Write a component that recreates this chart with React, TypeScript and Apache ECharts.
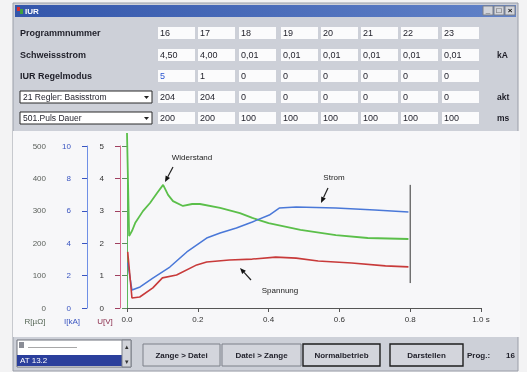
import React, { useEffect, useRef } from "react";
import * as echarts from "echarts";

// ---- chart data (time in s) ----
const timeTicks = ["0.0", "0.2", "0.4", "0.6", "0.8", "1.0 s"];
// Widerstand R [µΩ]
const resistance: [number, number][] = [
  [0.0, 540], [0.006, 222], [0.015, 240], [0.023, 262], [0.045, 299], [0.065, 324],
  [0.085, 355], [0.102, 380], [0.116, 349], [0.13, 330], [0.158, 315], [0.184, 321],
  [0.206, 321], [0.263, 309], [0.319, 293], [0.354, 278], [0.4, 262], [0.49, 241],
  [0.59, 225], [0.68, 216], [0.795, 213],
];
// Strom I [kA]
const current: [number, number][] = [
  [0.002, 2.8], [0.014, 1.11], [0.037, 1.3], [0.073, 1.85], [0.121, 2.53], [0.169, 3.46],
  [0.225, 4.32], [0.263, 4.63], [0.309, 4.94], [0.354, 5.31], [0.402, 5.74], [0.43, 6.17],
  [0.478, 6.23], [0.59, 6.17], [0.7, 6.05], [0.795, 5.93],
];
// Spannung U [V]
const voltage: [number, number][] = [
  [0.002, 1.73], [0.014, 0.31], [0.036, 0.34], [0.073, 0.62], [0.1, 0.93], [0.14, 1.02],
  [0.197, 1.33], [0.225, 1.42], [0.289, 1.48], [0.354, 1.51], [0.42, 1.57], [0.478, 1.54],
  [0.54, 1.45], [0.635, 1.39], [0.73, 1.3], [0.795, 1.27],
];
const endMarker: [number, number][] = [[0.8, 380], [0.8, 77]];

// ---- table contents ----
const rowLabels = ["Programmnummer", "Schweissstrom", "IUR Regelmodus"];
const dropdownLabels = ["21 Regler: Basisstrom", "501.Puls Dauer"];
const programNumbers = ["16", "17", "18", "19", "20", "21", "22", "23"];
const weldCurrent = ["4,50", "4,00", "0,01", "0,01", "0,01", "0,01", "0,01", "0,01"];
const regelModus = ["5", "1", "0", "0", "0", "0", "0", "0"];
const reglerValues = ["204", "204", "0", "0", "0", "0", "0", "0"];
const pulseDuration = ["200", "200", "100", "100", "100", "100", "100", "100"];
const rowUnits = ["", "kA", "", "akt", "ms"];
const buttonLabels = ["Zange > Datei", "Datei > Zange", "Normalbetrieb", "Darstellen"];
const axisUnits = ["R[µΩ]", "I[kA]", "U[V]"];

const FONT = "Liberation Sans";

function txt(text: string, x: number, y: number, opts: any = {}) {
  return {
    type: "text",
    z: opts.z ?? 20,
    style: {
      text,
      x,
      y,
      fill: opts.fill ?? "#222",
      fontSize: opts.fontSize ?? 8,
      fontFamily: FONT,
      fontWeight: opts.bold ? "bold" : "normal",
      align: opts.align ?? "left",
      textAlign: opts.align ?? "left",
      verticalAlign: "middle",
      textVerticalAlign: "middle",
    },
  };
}
function rect(x: number, y: number, w: number, h: number, fill: any, stroke?: string, z = 10, lw = 1) {
  return {
    type: "rect",
    z,
    shape: { x, y, width: w, height: h },
    style: { fill, stroke: stroke ?? null, lineWidth: lw },
  };
}

export default function App() {
  const ref = useRef<HTMLDivElement>(null);
  useEffect(() => {
    if (!ref.current) return;
    const chart = echarts.init(ref.current, null, { renderer: "svg" });

    const g: any[] = [];
    // outside + window
    g.push(rect(0, 0, 527, 372, "#f3f3f4", undefined, -20));
    g.push(rect(13, 3, 505, 368, "#cdd0d8", "#9a9ea8", -19));
    // title bar
    g.push(
      rect(15, 5, 501, 12,
        new echarts.graphic.LinearGradient(0, 0, 1, 0, [
          { offset: 0, color: "#3356ab" },
          { offset: 1, color: "#6182c8" },
        ]), undefined, -18)
    );
    g.push(rect(17, 7, 3, 4, "#d83030", undefined, 12));
    g.push(rect(20, 9, 3, 5, "#40a040", undefined, 12));
    g.push(txt("IUR", 25, 11, { fill: "#ffffff", bold: true, fontSize: 8 }));
    const tb = [483, 494, 505];
    const tbSym = ["_", "□", "×"];
    tb.forEach((x, i) => {
      g.push(rect(x, 6, 10, 9, "#d2d4da", "#7d8089", 12));
      g.push(txt(tbSym[i], x + 5, 10.5, { align: "center", fontSize: 8, bold: true, fill: "#111" }));
    });

    // table
    const rowY = [33, 55, 76, 97, 118];
    const colX = [158, 198, 239, 281, 321, 361, 401, 442];
    const rows = [programNumbers, weldCurrent, regelModus, reglerValues, pulseDuration];
    rowLabels.forEach((l, i) => g.push(txt(l, 20, rowY[i], { bold: true, fill: "#1e1e28", fontSize: 9 })));
    dropdownLabels.forEach((l, j) => {
      const y = rowY[3 + j];
      g.push(rect(20, y - 6, 132, 12, "#ffffff", "#2a2a2a", 10));
      g.push(txt(l, 23, y, { fill: "#1e1e28", fontSize: 8.5 }));
      g.push({
        type: "polygon",
        z: 12,
        shape: { points: [[144, y - 1], [149, y - 1], [146.5, y + 2]] },
        style: { fill: "#222" },
      });
    });
    rows.forEach((vals, r) => {
      vals.forEach((v, c) => {
        g.push(rect(colX[c], rowY[r] - 6, 37, 12, "#fbfbfc", undefined, 10));
        g.push(
          txt(v, colX[c] + 2, rowY[r], {
            fill: r === 2 && c === 0 ? "#2a55d0" : "#1e1e28",
            fontSize: 9,
          })
        );
      });
      if (rowUnits[r]) g.push(txt(rowUnits[r], 497, rowY[r], { bold: true, fill: "#1e1e28", fontSize: 8.5 }));
    });

    // chart panel
    g.push(rect(13, 131, 507, 206, "#f7f7f9", undefined, -15));

    // axis unit labels
    const unitX = [35, 72, 105];
    const unitC = ["#556655", "#3a55c0", "#8a2a4a"];
    axisUnits.forEach((u, i) => g.push(txt(u, unitX[i], 321, { align: "center", fill: unitC[i] })));

    // annotations
    const arrow = (x1: number, y1: number, x2: number, y2: number) => {
      const dx = x2 - x1, dy = y2 - y1;
      const len = Math.hypot(dx, dy);
      const ux = dx / len, uy = dy / len;
      const bx = x2 - ux * 6, by = y2 - uy * 6;
      g.push({ type: "line", z: 15, shape: { x1, y1, x2: bx, y2: by }, style: { stroke: "#222", lineWidth: 1.2 } });
      g.push({
        type: "polygon",
        z: 15,
        shape: { points: [[x2, y2], [bx - uy * 2.5, by + ux * 2.5], [bx + uy * 2.5, by - ux * 2.5]] },
        style: { fill: "#111" },
      });
    };
    g.push(txt("Widerstand", 192, 157, { align: "center", fill: "#222" }));
    arrow(173, 167, 165, 182);
    g.push(txt("Strom", 334, 177, { align: "center", fill: "#222" }));
    arrow(328, 188, 321, 203);
    g.push(txt("Spannung", 280, 290, { align: "center", fill: "#222" }));
    arrow(251, 280, 240, 268);

    // bottom bar
    g.push(rect(17, 340, 114, 27, "#ffffff", "#6d707a", 10));
    g.push(rect(19, 342, 5, 6, "#8a8d96", undefined, 12));
    g.push(txt("———————", 28, 346, { fill: "#555", fontSize: 7 }));
    g.push(rect(17, 355, 105, 11, "#2b3f9c", undefined, 11));
    g.push(txt("AT 13.2", 20, 360.5, { fill: "#ffffff" }));
    g.push(rect(122, 340, 9, 27, "#d2d4da", "#7d8089", 12));
    g.push(txt("▴", 126.5, 346, { align: "center", fontSize: 7, fill: "#333" }));
    g.push(txt("▾", 126.5, 361, { align: "center", fontSize: 7, fill: "#333" }));
    const btnX = [143, 222, 303, 390];
    const btnW = [77, 79, 77, 73];
    buttonLabels.forEach((b, i) => {
      const dark = i >= 2;
      g.push(rect(btnX[i], 344, btnW[i], 22, "#d3d5dc", dark ? "#1e1e1e" : "#7d8089", 10, dark ? 1.4 : 1));
      g.push(txt(b, btnX[i] + btnW[i] / 2, 355, { align: "center", bold: true, fill: "#1e1e28" }));
    });
    g.push(txt("Prog.:", 467, 355, { bold: true, fill: "#1e1e28" }));
    g.push(txt("16", 506, 355, { bold: true, fill: "#1e1e28" }));

    const option: any = {
      animation: false,
      backgroundColor: "transparent",
      textStyle: { fontFamily: FONT },
      grid: { left: 127, right: 46, top: 146, bottom: 64 },
      xAxis: {
        type: "value",
        min: 0,
        max: 1,
        interval: 0.2,
        axisLine: { lineStyle: { color: "#555", width: 1 } },
        axisTick: { length: 4, lineStyle: { color: "#555" } },
        axisLabel: {
          color: "#333",
          fontSize: 8,
          margin: 7,
          formatter: (v: number) => timeTicks[Math.round(v / 0.2)],
        },
        splitLine: { show: false },
      },
      yAxis: [
        {
          type: "value", min: 0, max: 500, interval: 100, position: "left", offset: 75,
          axisLine: { show: true, lineStyle: { color: "#5cb85c" } },
          axisTick: { show: true, length: 5, lineStyle: { color: "#5c8a5c" } },
          axisLabel: { color: "#5a5f5a", fontSize: 8, margin: 6 },
          splitLine: { show: false },
        },
        {
          type: "value", min: 0, max: 10, interval: 2, position: "left", offset: 40,
          axisLine: { show: true, lineStyle: { color: "#6f8fe6" } },
          axisTick: { show: true, length: 5, lineStyle: { color: "#3a55c0" } },
          axisLabel: { color: "#3a55c0", fontSize: 8, margin: 16 },
          splitLine: { show: false },
        },
        {
          type: "value", min: 0, max: 5, interval: 1, position: "left", offset: 7,
          axisLine: { show: true, lineStyle: { color: "#dc6a90" } },
          axisTick: { show: true, length: 5, lineStyle: { color: "#a04060" } },
          axisLabel: { color: "#333", fontSize: 8, margin: 16 },
          splitLine: { show: false },
        },
      ],
      series: [
        {
          name: "Widerstand", type: "line", yAxisIndex: 0, data: resistance,
          showSymbol: false, clip: false, z: 3,
          lineStyle: { color: "#5bbf4a", width: 1.8 },
        },
        {
          name: "Ende", type: "line", yAxisIndex: 0, data: endMarker,
          showSymbol: false, clip: false, z: 4,
          lineStyle: { color: "#333", width: 1 },
        },
        {
          name: "Strom", type: "line", yAxisIndex: 1, data: current,
          showSymbol: false, z: 3,
          lineStyle: { color: "#4a78d8", width: 1.5 },
        },
        {
          name: "Spannung", type: "line", yAxisIndex: 2, data: voltage,
          showSymbol: false, z: 3,
          lineStyle: { color: "#c83a3a", width: 1.6 },
        },
      ],
      graphic: { elements: g },
    };
    chart.setOption(option);
    return () => chart.dispose();
  }, []);

  return (
    <div
      ref={ref}
      style={{ position: "fixed", left: 0, top: 0, width: 527, height: 372 }}
    />
  );
}
